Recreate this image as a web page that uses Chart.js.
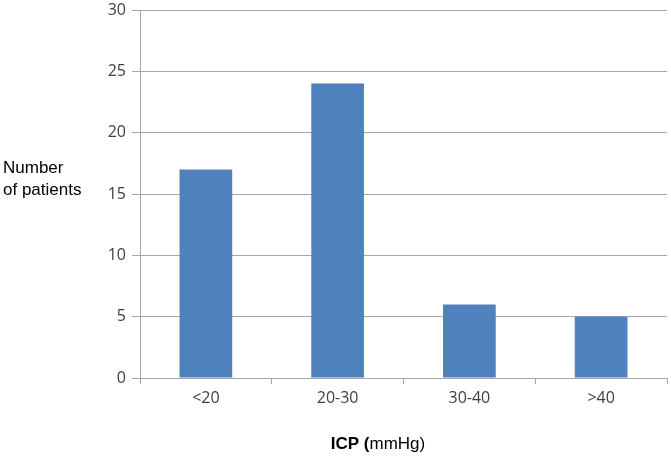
<!DOCTYPE html>
<html>
<head>
<meta charset="utf-8">
<script src="https://cdn.jsdelivr.net/npm/chart.js@4"></script>
<style>
  html, body { margin:0; padding:0; background:#fff; }
  #wrap { width:671px; height:458px; position:relative; }
</style>
</head>
<body>
<div id="wrap"><canvas id="icpChart" width="671" height="458"></canvas></div>
<script>
// categorias e contagens
const categorias = ['<20', '20-30', '30-40', '>40'];
const pacientes = [17, 24, 6, 5];
const yTicks = [0, 5, 10, 15, 20, 25, 30];

const GRID = '#a6a6a6';
const TICK_FONT = { family: 'Open Sans', size: 16 };

// títulos dos eixos desenhados à mão (o do x mistura negrito e normal)
const axisTitles = {
  id: 'axisTitles',
  afterDraw(chart){
    const ctx = chart.ctx;
    ctx.save();
    ctx.fillStyle = '#000';
    ctx.textBaseline = 'middle';
    ctx.textAlign = 'left';
    ctx.font = '17px "Liberation Sans", Arial, sans-serif';
    ctx.fillText('Number', 3, 168);
    ctx.fillText('of patients', 3, 190);

    const bold = 'bold 17px "Liberation Sans", Arial, sans-serif';
    const normal = '17px "Liberation Sans", Arial, sans-serif';
    ctx.font = bold;
    const w1 = ctx.measureText('ICP (').width;
    ctx.font = normal;
    const w2 = ctx.measureText('mmHg)').width;
    const x0 = 378 - (w1 + w2) / 2;
    ctx.font = bold;
    ctx.fillText('ICP (', x0, 444);
    ctx.font = normal;
    ctx.fillText('mmHg)', x0 + w1, 444);
    ctx.restore();
  }
};

new Chart(document.getElementById('icpChart').getContext('2d'), {
  type: 'bar',
  data: {
    labels: categorias,
    datasets: [{
      label: 'Number of patients',
      data: pacientes,
      backgroundColor: '#4f81bd',
      categoryPercentage: 1,
      barPercentage: 0.4
    }]
  },
  options: {
    responsive: false,
    animation: false,
    layout: { padding: { left: 0, top: 10, right: 4, bottom: 0 } },
    plugins: { legend: { display: false }, tooltip: { enabled: false } },
    scales: {
      x: {
        offset: true,
        grid: { display: true, drawOnChartArea: false, offset: true, color: GRID, tickLength: 6 },
        border: { color: GRID },
        ticks: { color: '#404040', font: TICK_FONT, padding: 5 },
        afterFit(s){ s.height = 80; s.paddingLeft = 0; s.paddingRight = 0; }
      },
      y: {
        min: 0, max: 30,
        afterBuildTicks(s){ s.ticks = yTicks.map(v => ({ value: v })); },
        grid: { color: GRID, tickLength: 8 },
        border: { color: GRID },
        ticks: { color: '#404040', font: TICK_FONT, padding: 6 },
        afterFit(s){ s.width = 140; s.paddingTop = 0; s.paddingBottom = 0; }
      }
    }
  },
  plugins: [axisTitles]
});
</script>
</body>
</html>
